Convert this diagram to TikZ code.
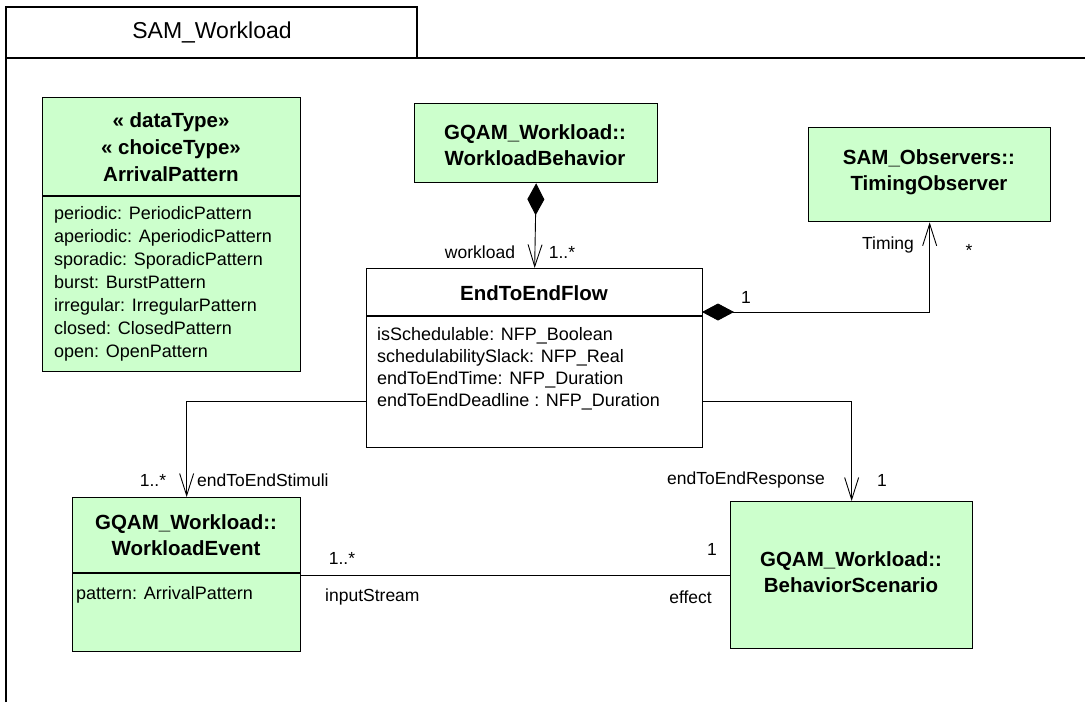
\documentclass[tikz,border=0pt]{standalone}
\usepackage{fontspec}
\setmainfont{Liberation Sans}
\usetikzlibrary{arrows.meta}
\definecolor{umlgreen}{HTML}{CCFFCC}
\tikzset{
  cls/.style={draw, line width=1.3pt, fill=umlgreen, inner sep=0pt, anchor=north west},
  head/.style={font=\bfseries\fontsize{20.5}{26}\selectfont, align=center},
  attr/.style={font=\fontsize{18}{22}\selectfont, align=left, anchor=west, inner sep=0pt},
  lbl/.style={font=\fontsize{17.5}{20}\selectfont, inner sep=0pt},
  link/.style={line width=0.9pt},
  navig/.style={link, -{Straight Barb[length=22pt,width=14pt]}},
  compos/.style={link, {Diamond[length=32pt,width=17pt]}-{Straight Barb[length=22pt,width=14pt]}}
}
\begin{document}
\begin{tikzpicture}[x=1pt,y=-1pt]
\useasboundingbox (0,0) rectangle (1085,702);

\draw[line width=1.3pt] (6,702) -- (6,7) -- (417,7) -- (417,58);
\draw[line width=1.3pt] (6,58) -- (1085,58);
\node[font=\fontsize{23}{26}\selectfont] (title) at (212,32) {SAM\_Workload};

\node[cls, minimum width=258pt, minimum height=274pt] (arrival) at (42,97) {};
\node[cls, minimum width=243pt, minimum height=79pt] (behav) at (414,103) {};
\node[cls, minimum width=242pt, minimum height=94pt] (timing) at (808,127) {};
\node[cls, fill=white, minimum width=336pt, minimum height=179pt] (flow) at (366,268) {};
\node[cls, minimum width=228pt, minimum height=154pt] (event) at (72,497) {};
\node[cls, minimum width=242pt, minimum height=147pt] (scen) at (730,501) {};

\draw[line width=1.3pt] (arrival.west |- 0,196) -- (arrival.east |- 0,196);
\draw[line width=1.3pt] (flow.west |- 0,316) -- (flow.east |- 0,316);
\draw[line width=1.3pt] (event.west |- 0,573) -- (event.east |- 0,573);

\node[head, font=\bfseries\fontsize{20.5}{27}\selectfont] (arrivalname) at (171,147) {« dataType»\\« choiceType»\\ArrivalPattern};
\node[attr, font=\fontsize{18}{23}\selectfont] (arrivalattr) at (54,284) {periodic: PeriodicPattern\\aperiodic: AperiodicPattern\\sporadic: SporadicPattern\\burst: BurstPattern\\irregular:  IrregularPattern\\closed: ClosedPattern\\open: OpenPattern};
\node[head] (behavname) at (535,145) {GQAM\_Workload::\\WorkloadBehavior};
\node[head] (timingname) at (929,172) {SAM\_Observers::\\TimingObserver};
\node[head] (flowname) at (534,293) {EndToEndFlow};
\node[attr] (flowattr) at (377,369) {isSchedulable:  NFP\_Boolean\\schedulabilitySlack:  NFP\_Real\\endToEndTime:  NFP\_Duration\\endToEndDeadline : NFP\_Duration};
\node[head] (eventname) at (186,535) {GQAM\_Workload::\\WorkloadEvent};
\node[attr] (eventattr) at (76,595) {pattern:  ArrivalPattern};
\node[head] (scenname) at (851,572) {GQAM\_Workload::\\BehaviorScenario};

\coordinate (ftiming) at (702,312);
\coordinate (fleft) at (366,401);
\coordinate (fright) at (702,401);

\draw[compos] (behav.south) -- (flow.north);
\draw[compos] (ftiming) -| (timing.south);
\draw[navig] (fleft) -| (event.north);
\draw[navig] (fright) -| (scen.north);
\draw[link] (scen.west) -- (scen.west -| event.east);

\node[lbl] (lworkload) at (480,252) {workload};
\node[lbl] (lworkmult) at (562,252) {1..*};
\node[lbl] (ltiming) at (888,245) {Timing};
\node[lbl] (ltimmult) at (969,250) {*};
\node[lbl] (lflowmult) at (746,297) {1};
\node[lbl] (lstimmult) at (153,480) {1..*};
\node[lbl, anchor=west] (lstimuli) at (197,480) {endToEndStimuli};
\node[lbl, anchor=east] (lresponse) at (825,480) {endToEndResponse};
\node[lbl] (lrespmult) at (882,480) {1};
\node[lbl] (linmult) at (342,558) {1..*};
\node[lbl, anchor=west] (linput) at (325,597) {inputStream};
\node[lbl] (leffmult) at (712,549) {1};
\node[lbl, anchor=east] (leffect) at (712,597) {effect};
\end{tikzpicture}
\end{document}
